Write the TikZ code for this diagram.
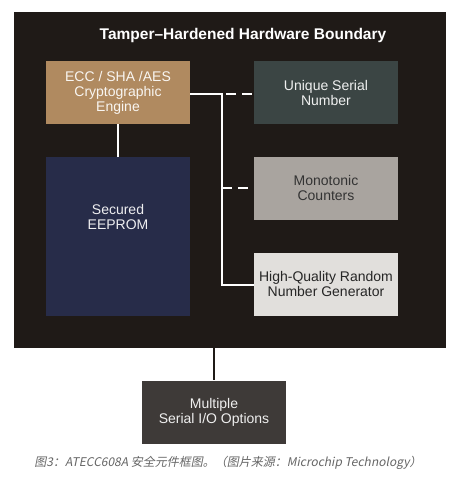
\documentclass[tikz,border=0pt]{standalone}
\usepackage{fontspec}
\setmainfont{Liberation Sans}
\newfontfamily\cjk[FakeSlant=0.2]{Noto Sans CJK SC}
\usetikzlibrary{positioning}

\definecolor{boundcol}{HTML}{1F1A17}
\definecolor{engcol}{HTML}{B08A60}
\definecolor{serialcol}{HTML}{3B4544}
\definecolor{eepcol}{HTML}{272C49}
\definecolor{cntcol}{HTML}{A9A49F}
\definecolor{rngcol}{HTML}{E1DFDC}
\definecolor{iocol}{HTML}{3E3A38}

\tikzset{
  block/.style={minimum width=144pt, minimum height=63pt, inner sep=0pt,
                align=center, font=\fontsize{14}{15}\selectfont},
  wire/.style={white, line width=1.6pt},
  dwire/.style={wire, dash pattern=on 10pt off 6pt}
}

\begin{document}
\begin{tikzpicture}[x=1pt, y=-1pt]
    \useasboundingbox[fill=white] (0,0) rectangle (466,485);
    \fill[boundcol] (14,12) rectangle (446,348);
    \node[white, font=\bfseries\fontsize{15.5}{16}\selectfont] (title) at (243,35) {Tamper--Hardened Hardware Boundary};

    \node[block, fill=engcol, text=white!92!engcol] at (118,92.5) (engine) {ECC / SHA /AES\\Cryptographic\\Engine};
    \node[block, fill=serialcol, text=white!92!serialcol] at (326,92.5) (serial) {Unique Serial\\Number};
    \node[block, fill=eepcol, minimum height=159pt] at (118,236.5) (eeprom) {};
    \node[text=white!92!eepcol, align=center, font=\fontsize{14}{15}\selectfont] at (118,217) (eeptext) {Secured\\EEPROM};
    \node[block, fill=cntcol, text=black!80] at (326,188) (counter) {Monotonic\\Counters};
    \node[block, fill=rngcol, text=black!85] at (326,284) (rng) {High-Quality Random\\Number Generator};
    \node[block, fill=iocol, text=white!92!iocol] at (214,412) (serialio) {Multiple\\Serial I/O Options};

    \coordinate (bus) at (222,94);
    \coordinate (bustwo) at (222,188);
    \coordinate (busend) at (222,285);
    \coordinate (bottom) at (214,348);

    \draw[wire] (engine.south) -- (eeprom.north);
    \draw[wire] (engine.east |- bus) -- (bus) -- (busend) -- (rng.west |- busend);
    \draw[dwire] (bus) ++(4,0) -- (serial.west |- bus);
    \draw[dwire] (bustwo) -- (counter.west |- bustwo);
    \draw[boundcol, line width=1.6pt] (bottom) -- (serialio.north);

    \node[text=black!60, font=\cjk\fontsize{12}{13}\selectfont] (caption) at (228,463)
      {图3：ATECC608A 安全元件框图。（图片来源：Microchip Technology）};
\end{tikzpicture}
\end{document}
